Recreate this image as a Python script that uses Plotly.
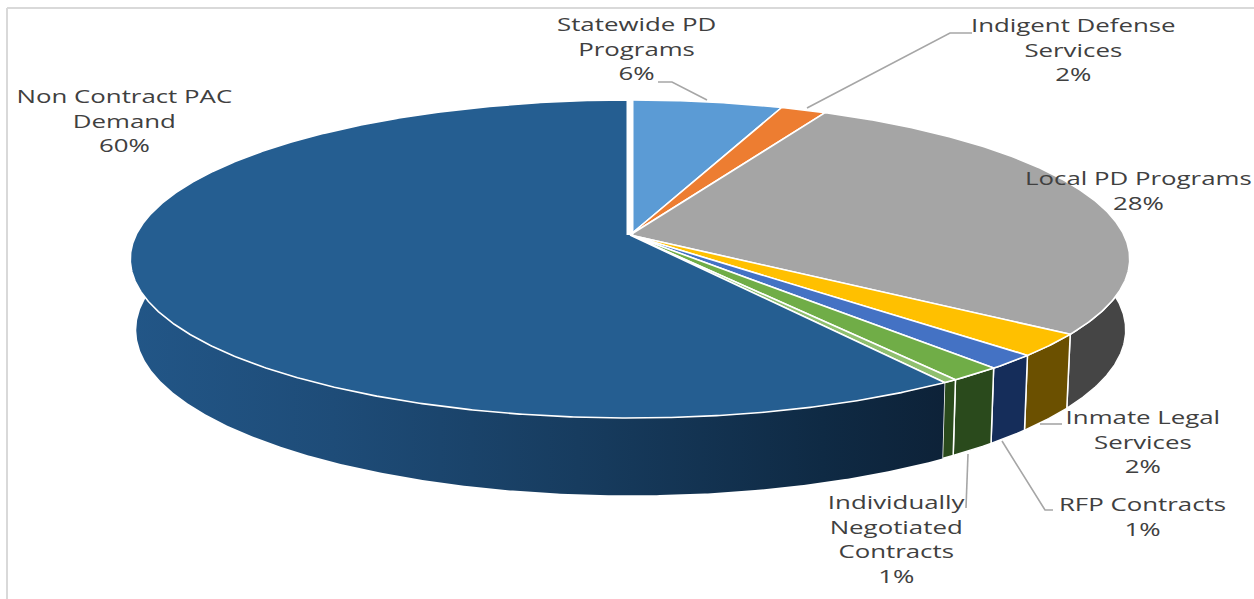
import numpy as np
import plotly.graph_objects as go

# ---- data -------------------------------------------------------------
categories = ["Statewide PD Programs", "Indigent Defense Services", "Local PD Programs",
              "Inmate Legal Services", "RFP Contracts", "Individually Negotiated Contracts",
              "Unlabelled sliver", "Non Contract PAC Demand"]
values = [5.7, 1.7, 27.5, 2.3, 1.5, 1.5, 0.4, 59.4]
top_colors = ["#5B9BD5", "#ED7D31", "#A5A5A5", "#FFC000", "#4472C4", "#70AD47", "#8FBF6F", "#255E91"]
side_colors = ["#2f5f8a", "#8a4a1c", "#454545", "#6B5000", "#152D5A", "#2A4A1C", "#2A4A1C", "#1E4A73"]

label_texts = ["Statewide PD<br>Programs<br>6%", "Indigent Defense<br>Services<br>2%",
               "Local PD Programs<br>28%", "Inmate Legal<br>Services<br>2%",
               "RFP Contracts<br>1%", "Individually<br>Negotiated<br>Contracts<br>1%",
               "Non Contract PAC<br>Demand<br>60%"]
label_x = [636, 1073, 1138, 1143, 1142, 896, 124]
label_y = [48, 49, 190, 441, 516, 539, 120]

leaders = [
    ([658, 672, 707], [82, 82, 100]),
    ([972, 950, 807], [33, 33, 108]),
    ([1062, 1040], [424, 424]),
    ([1053, 1045, 1002], [510, 510, 441]),
    ([966, 968], [508, 454]),
]

# ---- projection of the tilted disc ------------------------------------
APEX_X, APEX_Y = 630.0, 235.0
A, B, K = 494.0, 155.4, 0.151


def top_pt(theta):
    X, Y = np.sin(theta), np.cos(theta)
    w = 1 + K * Y
    return APEX_X + A * X / w, APEX_Y - B * Y / w


def bottom_pt(theta):
    x, y = top_pt(theta)
    return 631 + 0.99 * (x - APEX_X), 330 + 1.04 * (y - 259)


total = sum(values)
edges = np.cumsum([0] + values) / total * 2 * np.pi

fig = go.Figure()

# side walls first
for i, (v, c) in enumerate(zip(values, side_colors)):
    t = np.linspace(edges[i], edges[i + 1], max(8, int(v * 12)))
    t = t[(t > np.radians(80)) & (t < np.radians(280))]
    if len(t) < 2:
        continue
    xt, yt = top_pt(t)
    xb, yb = bottom_pt(t)
    xs = np.r_[xt, xb[::-1], xt[0]]
    ys = np.r_[yt, yb[::-1], yt[0]]
    kw = dict(fillcolor=c)
    if i == len(values) - 1:
        kw = dict(fillgradient=dict(type="horizontal", colorscale=[
            [0, "#225687"], [0.25, "#1E4C78"], [0.55, "#173C5F"], [0.85, "#0F2A44"], [1, "#0D2238"]]))
    fig.add_trace(go.Scatter(x=xs, y=ys, mode="lines", fill="toself",
                             line=dict(color="#FFFFFF" if i < len(values) - 1 else "rgba(0,0,0,0)", width=1.5),
                             hoverinfo="skip", showlegend=False, **kw))

# top faces
for i, (name, c) in enumerate(zip(categories, top_colors)):
    t = np.linspace(edges[i], edges[i + 1], max(6, int(values[i] * 12)))
    xt, yt = top_pt(t)
    fig.add_trace(go.Scatter(x=np.r_[APEX_X, xt, APEX_X], y=np.r_[APEX_Y, yt, APEX_Y],
                             mode="lines", fill="toself", fillcolor=c, name=name,
                             line=dict(color="#FFFFFF", width=1.6),
                             hoverinfo="name", showlegend=False))

# wide white seam at twelve o'clock
x0, y0 = top_pt(0.0)
fig.add_trace(go.Scatter(x=[APEX_X, x0], y=[APEX_Y, y0 - 1], mode="lines",
                         line=dict(color="#FFFFFF", width=7),
                         hoverinfo="skip", showlegend=False))

# leader lines
for lx, ly in leaders:
    fig.add_trace(go.Scatter(x=lx, y=ly, mode="lines", line=dict(color="#A6A6A6", width=1.6),
                             hoverinfo="skip", showlegend=False))

for txt, x, y in zip(label_texts, label_x, label_y):
    fig.add_annotation(x=x, y=y, text=txt, showarrow=False, xanchor="center", yanchor="middle",
                       align="center", font=dict(family="Open Sans", size=19, color="#404040"))

# frame pieces
fig.add_shape(type="line", x0=7, x1=1254, y0=8, y1=8, line=dict(color="#D9D9D9", width=2))
fig.add_shape(type="line", x0=7, x1=7, y0=8, y1=599, line=dict(color="#D9D9D9", width=2))

fig.update_layout(
    width=1254, height=599, margin=dict(l=0, r=0, t=0, b=0),
    paper_bgcolor="#FFFFFF", plot_bgcolor="#FFFFFF", showlegend=False,
    xaxis=dict(range=[0, 1254], visible=False, fixedrange=True),
    yaxis=dict(range=[599, 0], visible=False, fixedrange=True),
)

# The reference's labels are horizontally stretched: widen the real SVG text about its own centre.
stretch_js = """
document.body.style.margin='0';
function stretchLabels(){
  document.querySelectorAll('.annotation-text').forEach(function(e){
    e.style.transformBox='fill-box';
    e.style.transformOrigin='center';
    e.style.transform='scaleX(1.36)';
  });
}
stretchLabels();
setTimeout(stretchLabels,50);
"""
fig.write_html("out.html", config={"displayModeBar": False}, post_script=stretch_js)
